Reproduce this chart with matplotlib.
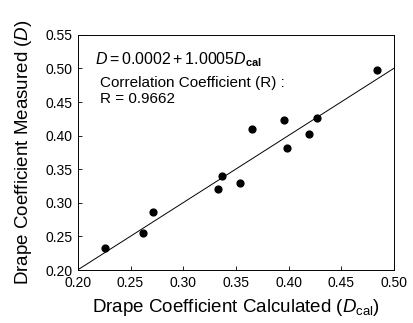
import matplotlib
matplotlib.use("Agg")
import matplotlib.pyplot as plt
import numpy as np

plt.rcParams['font.family'] = ['Liberation Sans', 'DejaVu Sans']
plt.rcParams['mathtext.fontset'] = 'custom'
plt.rcParams['mathtext.rm'] = 'Liberation Sans'
plt.rcParams['mathtext.it'] = 'Liberation Sans:italic'
plt.rcParams['mathtext.bf'] = 'Liberation Sans:bold'

d_cal = [0.226, 0.262, 0.271, 0.333, 0.337, 0.354, 0.398, 0.365, 0.396, 0.419, 0.427, 0.484]
d_meas = [0.233, 0.255, 0.287, 0.321, 0.340, 0.330, 0.381, 0.410, 0.424, 0.403, 0.426, 0.497]
intercept = 0.0002
slope = 1.0005
x_ticks = [0.20, 0.25, 0.30, 0.35, 0.40, 0.45, 0.50]
y_ticks = [0.20, 0.25, 0.30, 0.35, 0.40, 0.45, 0.50, 0.55]

fig = plt.figure(figsize=(4.14, 3.23), dpi=100)
ax = fig.add_axes([0.188, 0.164, 0.764, 0.728])

xl = np.array([0.20, 0.50])
ax.plot(xl, intercept + slope * xl, color='black', lw=0.7)
ax.scatter(d_cal, d_meas, s=24, color='black', zorder=3)

ax.set_xlim(0.20, 0.50)
ax.set_ylim(0.20, 0.55)
ax.set_xticks(x_ticks)
ax.set_yticks(y_ticks)
ax.set_xticklabels([f"{v:.2f}" for v in x_ticks])
ax.set_yticklabels([f"{v:.2f}" for v in y_ticks])
ax.tick_params(direction='in', length=3, width=0.6, labelsize=10, pad=4)
for s in ax.spines.values():
    s.set_linewidth(0.7)

ax.set_xlabel(r'Drape Coefficient Calculated ($D_{\mathrm{cal}}$)', fontsize=13.5, labelpad=5)
ax.set_ylabel(r'Drape Coefficient Measured ($D$)', fontsize=13.5, labelpad=8)

ax.text(0.055, 0.894, r'$D = 0.0002 + 1.0005D_{\mathbf{cal}}$', transform=ax.transAxes,
        fontsize=11.5, va='center')
ax.text(0.07, 0.796, 'Correlation Coefficient (R) :', transform=ax.transAxes,
        fontsize=11, va='center')
ax.text(0.07, 0.728, 'R = 0.9662', transform=ax.transAxes, fontsize=11, va='center')

fig.savefig('out.png', dpi=100)
